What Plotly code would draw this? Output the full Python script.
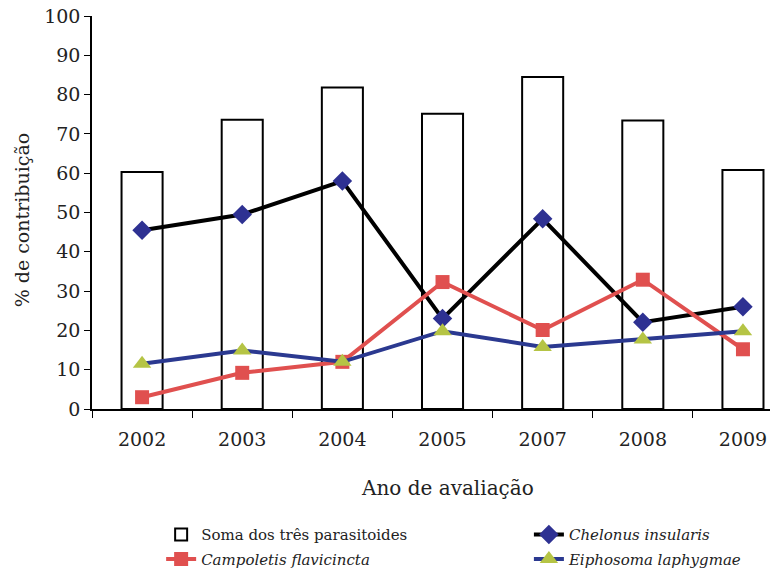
import plotly.graph_objects as go

anos = ["2002", "2003", "2004", "2005", "2007", "2008", "2009"]
soma = [60.3, 73.6, 81.8, 75.1, 84.5, 73.4, 60.8]
chelonus = [45.5, 49.5, 58.0, 23.0, 48.4, 22.1, 26.0]
campoletis = [3.0, 9.2, 12.0, 32.3, 20.1, 32.9, 15.2]
eiphosoma = [11.5, 14.9, 12.0, 19.8, 15.8, 17.7, 19.8]
y_ticks = list(range(0, 101, 10))

FONT = "DejaVu Serif"
TXT = "#222"

fig = go.Figure()
fig.add_trace(go.Bar(
    x=anos, y=soma, name="Soma dos três parasitoides",
    marker=dict(color="white", line=dict(color="black", width=2)),
    width=0.41, legend="legend", legendgroup="a", legendrank=1,
))
fig.add_trace(go.Scatter(
    x=anos, y=chelonus, name="<i>Chelonus insularis</i>", mode="lines+markers",
    line=dict(color="black", width=4),
    marker=dict(symbol="diamond", size=15, color="#2e3192"),
    legend="legend2", legendgroup="c", legendrank=1,
))
fig.add_trace(go.Scatter(
    x=anos, y=campoletis, name="<i>Campoletis flavicincta</i>", mode="lines+markers",
    line=dict(color="#e0504f", width=4),
    marker=dict(symbol="square", size=14, color="#e0504f"),
    legend="legend", legendgroup="b", legendrank=2,
))
fig.add_trace(go.Scatter(
    x=anos, y=eiphosoma, name="<i>Eiphosoma laphygmae</i>", mode="lines+markers",
    line=dict(color="#2b3990", width=4),
    marker=dict(symbol="triangle-up", size=16, color="#b5c445"),
    legend="legend2", legendgroup="d", legendrank=2,
))

leg_common = dict(
    xref="container", yref="container", xanchor="left", yanchor="top",
    y=0.102, traceorder="grouped", tracegroupgap=2,
    font=dict(family=FONT, size=15, color=TXT), bgcolor="rgba(0,0,0,0)",
)

fig.update_layout(
    width=771, height=577,
    margin=dict(l=92, r=1, t=16, b=168, autoexpand=False),
    plot_bgcolor="white", paper_bgcolor="white",
    font=dict(family=FONT, size=19, color=TXT),
    showlegend=True,
    legend=dict(x=0.209, **leg_common),
    legend2=dict(x=0.686, **leg_common),
    annotations=[
        dict(text="% de contribuição", xref="paper", yref="paper",
             x=-70 / 678, y=0.48, xanchor="center", yanchor="middle",
             textangle=-90, showarrow=False,
             font=dict(family=FONT, size=19, color=TXT)),
        dict(text="Ano de avaliação", xref="paper", yref="paper",
             x=0.524, y=-0.201, xanchor="center", yanchor="middle",
             showarrow=False, font=dict(family=FONT, size=20, color=TXT)),
    ],
)
fig.update_xaxes(
    type="category", range=[-0.5, 6.27], automargin=False,
    showline=True, linecolor="black", linewidth=1.5,
    ticks="outside", tickson="boundaries", ticklen=7, tickcolor="black",
    ticklabelstandoff=12, tickfont=dict(family=FONT, size=19, color=TXT),
    showgrid=False, zeroline=False,
)
fig.update_yaxes(
    range=[0, 100], tickvals=y_ticks, automargin=False,
    showline=True, linecolor="black", linewidth=1.5,
    ticks="outside", ticklen=6, tickcolor="black",
    tickfont=dict(family=FONT, size=19, color=TXT),
    showgrid=False, zeroline=False,
)

fig.write_html("out.html")
